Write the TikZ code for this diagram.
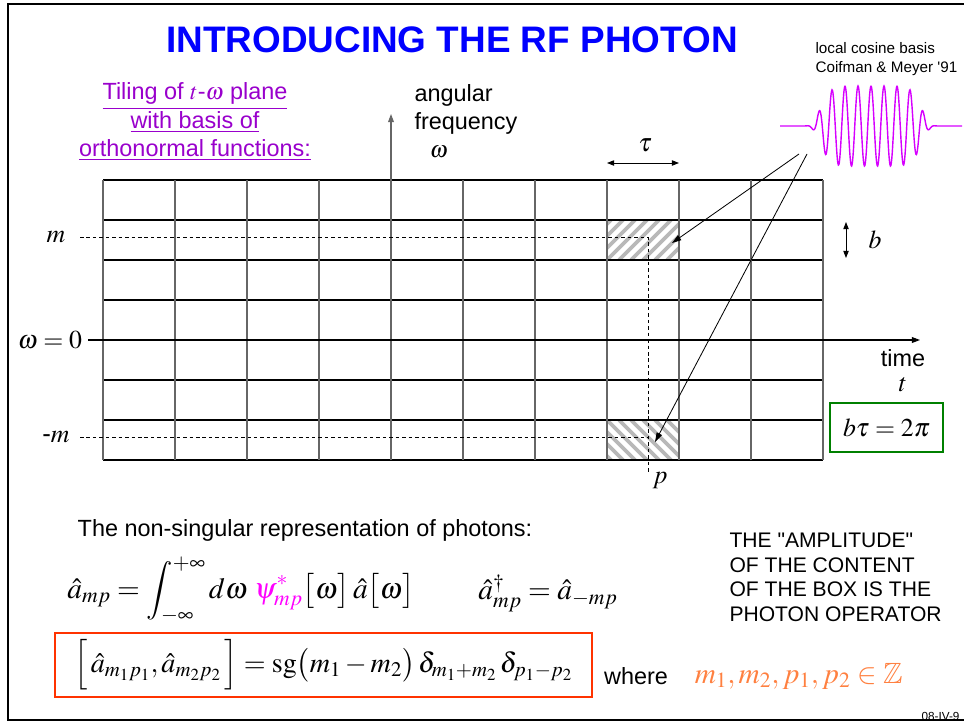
\documentclass[tikz,border=0pt]{standalone}
\usepackage{mathptmx}
\usepackage{amssymb}
\usepackage[no-math]{fontspec}
\setmainfont{Liberation Sans}
\usetikzlibrary{arrows.meta,positioning,calc}
\definecolor{titleblue}{RGB}{0,0,255}
\definecolor{tilepurple}{RGB}{153,0,204}
\definecolor{wavemag}{RGB}{214,0,255}
\definecolor{psimag}{RGB}{255,0,255}
\definecolor{setorange}{RGB}{255,128,64}
\definecolor{boxred}{RGB}{255,51,0}
\definecolor{boxgreen}{RGB}{0,128,0}
\tikzset{every picture/.style={line width=0.9pt}}
\tikzset{
  gridh/.style={black},
  gridv/.style={black!60},
  hatch/.style={black!28,line width=3.2pt},
  guide/.style={line width=0.6pt,dash pattern=on 3pt off 2.5pt},
  axis/.style={-{Triangle[length=7pt,width=5pt]}},
  pointer/.style={line width=0.7pt,-{Triangle[length=8pt,width=5pt]}},
  span/.style={line width=0.8pt,{Triangle[length=6pt,width=4.5pt]}-{Triangle[length=6pt,width=4.5pt]}},
  textlab/.style={font=\fontsize{20}{24}\selectfont,inner sep=0pt},
  mathlab/.style={font=\fontsize{22}{26}\selectfont,inner sep=0pt},
  formula/.style={font=\fontsize{25}{30}\selectfont,inner sep=0pt}
}

\begin{document}
\begin{tikzpicture}[x=0.03cm,y=-0.03cm]
    \useasboundingbox (0,0) rectangle (964,723);
    % hatched boxes
    \begin{scope}
        \clip (607,220) rectangle (679,260);
        \foreach \s in {-48,-36,...,84}
            \draw[hatch] ({607+\s},260) -- ({647+\s},220);
    \end{scope}
    \begin{scope}
        \clip (607,420) rectangle (679,460);
        \foreach \s in {-48,-36,...,84}
            \draw[hatch] ({607+\s},420) -- ({647+\s},460);
    \end{scope}
    % tiling grid
    \foreach \r in {0,1,2,3,5,6,7}
        \draw[gridh] (103,{180+40*\r}) -- (823,{180+40*\r});
    \foreach \c in {0,...,10}
        \draw[gridv] ({103+72*\c},180) -- ({103+72*\c},460);
    \coordinate (wbot) at (391,460);
    \coordinate (wtop) at (391,114);
    \coordinate (tleft) at (88,340);
    \coordinate (tright) at (920,340);
    \draw[axis,black!60] (wbot) -- (wtop);
    \draw[axis] (tleft) -- (tright);
    % dashed guides
    \coordinate (mstart) at (80,237);
    \coordinate (mcorner) at (648,237);
    \coordinate (pend) at (648,472);
    \coordinate (mnstart) at (80,437);
    \coordinate (mncorner) at (648,437);
    \draw[guide] (mstart) -- (mcorner) -- (pend);
    \draw[guide] (mnstart) -- (mncorner);

    \node[font=\fontsize{31.5}{36}\selectfont\bfseries,text=titleblue] (title) at (452,40) {INTRODUCING THE RF PHOTON};
    \node[font=\fontsize{13}{15.5}\selectfont,align=left,anchor=west,inner sep=0pt] (cosnote) at (815,59)
        {local cosine basis\\Coifman \& Meyer \textquotesingle 91};
    \node[textlab,text=tilepurple,align=center] (tiling) at (195,122)
        {\underline{Tiling of $t$-$\omega$ plane}\\\underline{with basis of}\\\underline{orthonormal functions:}};
    \node[textlab,align=left,anchor=north west] (angfreq) at (414,84)
        {angular\\frequency\\\hspace*{13pt}$\omega$};

    % wavelet
    \draw[wavemag,line width=1.2pt] plot[domain=780:962,samples=400]
        (\x,{126-40*exp(-min((abs(\x-871)/52)^8,20))*cos(27.6923*(\x-871))});
    \coordinate (wavetail1) at (799,154);
    \coordinate (wavetail2) at (807,154);
    \coordinate (hatchtop) at (672,243);
    \coordinate (hatchbot) at (655,442);
    \draw[pointer] (wavetail1) -- (hatchtop);
    \draw[pointer] (wavetail2) -- (hatchbot);

    \node[mathlab] (mlab) at (56,237) {$m$};
    \node[mathlab] (zerolab) at (50,340) {$\omega=0$};
    \node[mathlab] (mneglab) at (56,437) {-$m$};
    \node[mathlab] (plab) at (660,481) {$p$};
    \coordinate (tauL) at (607,163);
    \coordinate (tauR) at (679,163);
    \draw[span] (tauL) -- (tauR);
    \node[mathlab] (taulab) at (645,145) {$\tau$};
    \coordinate (bT) at (846,222);
    \coordinate (bB) at (846,258);
    \draw[span] (bT) -- (bB);
    \node[mathlab] (blab) at (875,240) {$b$};
    \node[textlab] (timelab) at (903,358) {time};
    \node[mathlab,below=8pt of timelab] (tlab) {$t$};
    \node[mathlab,draw=boxgreen,line width=1.8pt,minimum width=3.39cm,minimum height=1.47cm] (relbox) at (886.5,427.5)
        {$b\tau=2\pi$};

    \node[textlab] (intro) at (305,530) {The non-singular representation of photons:};
    \node[formula] (ampformula) at (241,590)
        {$\displaystyle\hat a_{mp}=\int_{-\infty}^{+\infty}d\omega\;\textcolor{psimag}{\psi^{*}_{mp}}\big[\omega\big]\,\hat a\big[\omega\big]$};
    \node[formula] (daggerformula) at (548,593) {$\hat a^{\dagger}_{mp}=\hat a_{-mp}$};
    \node[font=\fontsize{18}{21.3}\selectfont,align=left,anchor=north west,inner sep=0pt] (amptext) at (729,532)
        {THE \textquotedbl AMPLITUDE\textquotedbl\\OF THE CONTENT\\OF THE BOX IS THE\\PHOTON OPERATOR};
    \node[formula,draw=boxred,line width=2.2pt,minimum width=16.1cm,minimum height=1.92cm] (commbox) at (323.5,665)
        {\fontsize{24}{28}\selectfont$\Big[\,\hat a_{m_1p_1},\hat a_{m_2p_2}\,\Big]=\mathrm{sg}\big(m_1-m_2\big)\,\delta_{m_1+m_2}\,\delta_{p_1-p_2}$};
    \node[textlab] (wherelab) at (636,676) {where};
    \node[formula,text=setorange,right=22pt of wherelab] (setlab) {$m_1,m_2,p_1,p_2\in\mathbb{Z}$};
    \node[font=\fontsize{10}{12}\selectfont,anchor=base east,inner sep=0pt] (slideno) at (960,720) {08-IV-9};
    % slide frame
    \draw[line width=1.6pt] (964,4) -- (8,4) -- (8,720) -- (964,720);
\end{tikzpicture}
\end{document}
